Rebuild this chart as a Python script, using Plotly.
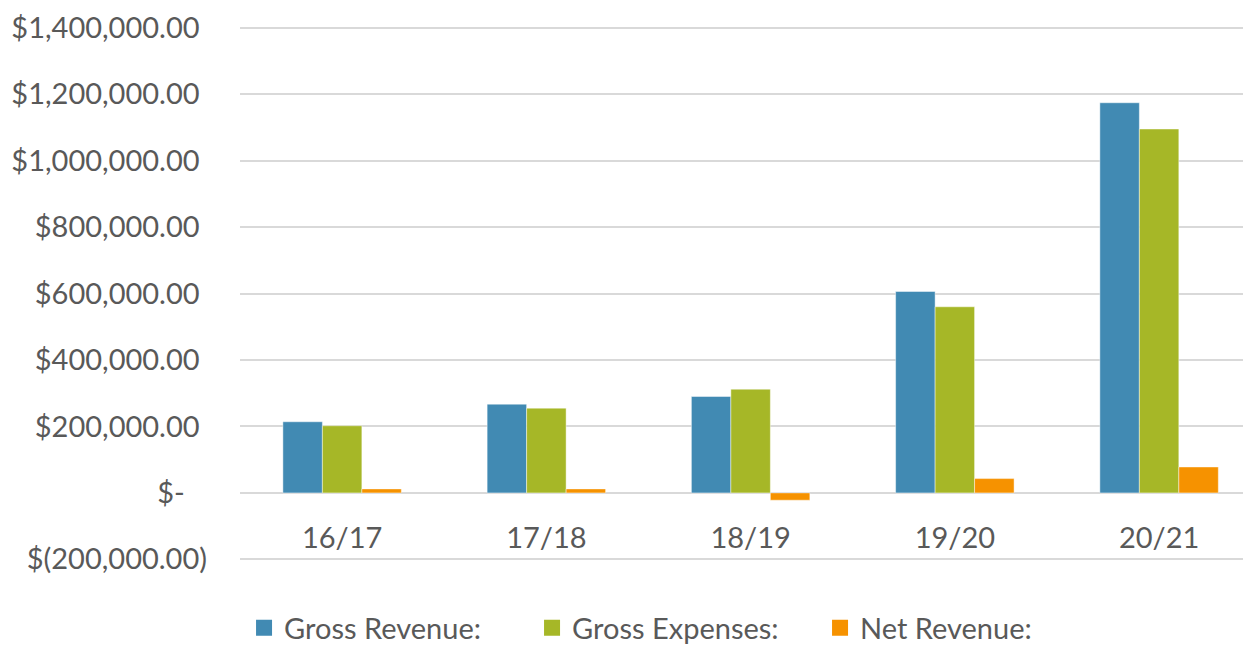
import plotly.graph_objects as go

categories = ["16/17", "17/18", "18/19", "19/20", "20/21"]
gross_revenue = [214000, 267000, 290000, 606000, 1174000]
gross_expenses = [202000, 255000, 312000, 560000, 1095000]
net_revenue = [12000, 12000, -22000, 43000, 78000]

series_names = ["Gross Revenue:", "Gross Expenses:", "Net Revenue:"]
series_colors = ["#418AB3", "#A6B727", "#F69200"]

y_tick_vals = [-200000, 0, 200000, 400000, 600000, 800000, 1000000, 1200000, 1400000]
y_tick_text = ["$(200,000.00)", "$-\u00a0\u00a0\u00a0", "$200,000.00\u00a0", "$400,000.00\u00a0",
               "$600,000.00\u00a0", "$800,000.00\u00a0", "$1,000,000.00\u00a0",
               "$1,200,000.00\u00a0", "$1,400,000.00\u00a0"]

FONT = "Lato"
TEXT = "#595959"
GRID = "#D9D9D9"

fig = go.Figure()
for name, vals, col in zip(series_names, [gross_revenue, gross_expenses, net_revenue], series_colors):
    fig.add_trace(go.Bar(x=categories, y=vals, name=name, showlegend=False,
                         marker=dict(color=col, line=dict(color="rgba(255,255,255,0.45)", width=1))))
# legend entries (square swatches)
for name, col in zip(series_names, series_colors):
    fig.add_trace(go.Scatter(x=[None], y=[None], mode="markers", name=name,
                             marker=dict(symbol="square", size=18, color=col)))

# page body has an 8px margin, so figure coords = screen coords - 8
plot_h = 535.3
fig.update_layout(
    width=1243, height=637,
    margin=dict(l=232, r=0, t=18, b=83.7, autoexpand=False),
    paper_bgcolor="white", plot_bgcolor="white",
    barmode="group", bargap=0.42, bargroupgap=0,
    font=dict(family=FONT, color=TEXT, size=29),
    showlegend=True,
    legend=dict(orientation="h", x=0.004, xanchor="left", y=-(619 - 552) / plot_h, yanchor="middle",
                font=dict(size=29, color=TEXT), itemsizing="trace",
                traceorder="normal", entrywidth=243, bgcolor="rgba(0,0,0,0)"),
    xaxis=dict(range=[-0.5, 4.45], showgrid=False, showline=False, ticks="",
               anchor="free", position=(552 - 485.5 + 1.66) / plot_h,
               ticklabelstandoff=25, tickfont=dict(size=29, color=TEXT, family=FONT)),
    yaxis=dict(range=[-205000, 1405000], tickvals=y_tick_vals, ticktext=y_tick_text,
               showgrid=True, gridcolor=GRID, gridwidth=2,
               zeroline=True, zerolinecolor=GRID, zerolinewidth=2,
               showline=False, ticks="", ticklabelstandoff=32, automargin=False,
               tickfont=dict(size=29, color=TEXT, family=FONT)),
)

fig.write_html("out.html")
